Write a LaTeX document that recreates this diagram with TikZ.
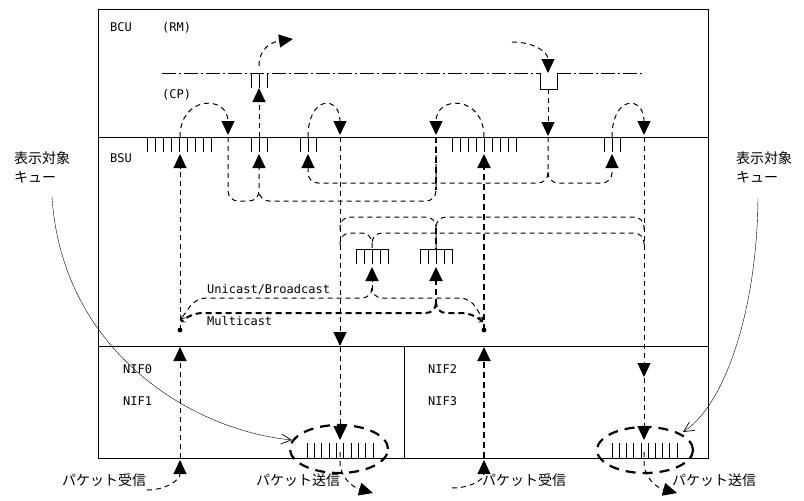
\documentclass[tikz,border=0pt]{standalone}
\usepackage{fontspec}
\setmonofont{DejaVu Sans Mono}
\newfontfamily\jp{Noto Sans CJK JP}
\usetikzlibrary{arrows.meta}

\begin{document}
\begin{tikzpicture}[x=1pt,y=-1pt,
  flow/.style={draw,line width=1pt,dash pattern=on 5pt off 4pt},
  fat flow/.style={draw,line width=2pt,dash pattern=on 6pt off 4pt},
  flowtip/.style={-{Triangle[width=13pt,length=14pt]}},
  smalltip/.style={-{Straight Barb[length=3pt,width=6pt,line width=0.8pt]}},
  calltip/.style={-{Straight Barb[length=10pt,width=10pt,line width=0.7pt]}},
  lbl/.style={font=\ttfamily\fontsize{12}{12}\selectfont,anchor=base west,inner sep=0pt},
  jlbl/.style={font=\jp\fontsize{14}{14}\selectfont,anchor=west,inner sep=0pt},
  rmbus/.style={line width=1pt,dash pattern=on 14pt off 3pt on 2pt off 3pt},
  ring/.style={line width=2.2pt,dash pattern=on 10pt off 7pt}]
  \useasboundingbox (0,0) rectangle (804,501);

  % frames
  \draw (98,9) rectangle (708,458);
  \draw (98,137) -- (708,137);
  \draw (98,346) -- (708,346);
  \draw (404,346) -- (404,458);

  % labels
  \node[lbl] (bcu) at (110,31) {BCU};
  \node[lbl] (rm) at (162,31) {(RM)};
  \node[lbl] (cp) at (162,98) {(CP)};
  \node[lbl] (bsu) at (110,162) {BSU};
  \node[lbl] (nif0) at (123,373) {NIF0};
  \node[lbl] (nif1) at (123,405) {NIF1};
  \node[lbl] (nif2) at (428,373) {NIF2};
  \node[lbl] (nif3) at (428,405) {NIF3};
  \node[lbl] (uni) at (207,293) {Unicast/Broadcast};
  \node[lbl] (multi) at (207,325) {Multicast};
  \node[jlbl] (lq1) at (14,158) {表示対象};
  \node[jlbl] (lq2) at (14,177) {キュー};
  \node[jlbl] (rq1) at (736,158) {表示対象};
  \node[jlbl] (rq2) at (736,177) {キュー};
  \node[jlbl] (rx0) at (62,480) {パケット受信};
  \node[jlbl] (tx0) at (256,480) {パケット送信};
  \node[jlbl] (rx2) at (482,480) {パケット受信};
  \node[jlbl] (tx2) at (672,480) {パケット送信};

  % RM line and its queues
  \draw[rmbus] (162,73) -- (540,73);
  \draw[rmbus] (557,73) -- (642,73);
  \draw (540,73) -- (540,89) -- (557,89) -- (557,73);
  \foreach \x in {251,259,267} \draw (\x,73) -- (\x,88);

  % BSU queues
  \foreach \x in {147,155,...,211} \draw (\x,137) -- (\x,152);
  \foreach \x in {452,460,...,516} \draw (\x,137) -- (\x,152);
  \foreach \x in {251,259,267} \draw (\x,137) -- (\x,152);
  \foreach \x in {300,308,316} \draw (\x,137) -- (\x,152);
  \foreach \x in {604,612,620} \draw (\x,137) -- (\x,152);

  % BCU flows
  \draw[flow,flowtip] (259,137) -- (259,88);
  \draw[flow,flowtip] (259,66) .. controls (259,48) and (272,42) .. (293,39);
  \draw[flow,flowtip] (512,42) .. controls (534,42) and (548,52) .. (548,73);
  \draw[flow,flowtip] (548,89) -- (548,136);

  % loops over the BSU line
  \draw[flow,flowtip] (180,137) .. controls (180,95) and (228,95) .. (228,135);
  \draw[flow,flowtip] (308,137) .. controls (308,95) and (340,95) .. (340,135);
  \draw[flow,flowtip] (484,137) .. controls (484,95) and (436,95) .. (436,135);
  \draw[flow,flowtip] (612,137) .. controls (612,95) and (644,95) .. (644,135);

  % merge into 259, split from 548
  \draw[flow,rounded corners=10pt,flowtip] (228,137) -- (228,201) -- (259,201) -- (259,154);
  \draw[flow,rounded corners=10pt] (436,137) -- (436,201) -- (259,201) -- (259,190);
  \draw[fat flow] (436,137) -- (436,190);
  \draw[flow,rounded corners=10pt,flowtip] (548,137) -- (548,183) -- (308,183) -- (308,154);
  \draw[flow,rounded corners=10pt,flowtip] (548,172) -- (548,183) -- (612,183) -- (612,154);

  % receive columns
  \coordinate (d0) at (180,330);
  \coordinate (d2) at (484,330);
  \draw[flow,flowtip] (d0) -- (180,154);
  \draw[fat flow,flowtip] (d2) -- (484,154);
  \fill (d0) circle (2.4pt);
  \fill (d2) circle (2.4pt);
  \draw[flow,flowtip] (180,458) -- (180,347);
  \draw[fat flow,flowtip] (484,458) -- (484,347);
  \draw[flow,flowtip] (147,490) .. controls (166,490) and (180,480) .. (180,460);
  \draw[flow,flowtip] (452,488) .. controls (470,488) and (484,480) .. (484,460);

  % send columns
  \draw[flow,flowtip] (340,137) -- (340,346);
  \draw[flow,flowtip] (340,347) -- (340,440);
  \draw[flow,flowtip] (340,452) -- (340,465) .. controls (342,478) and (352,487) .. (373,493);
  \draw[flow,flowtip] (644,137) -- (644,377);
  \draw[flow,flowtip] (644,378) -- (644,440);
  \draw[flow,flowtip] (644,452) -- (644,465) .. controls (646,478) and (655,487) .. (677,493);

  % forwarding queues and their outputs
  \draw (356,249) -- (388,249);
  \foreach \x in {356,364,...,388} \draw (\x,249) -- (\x,264);
  \draw (420,249) -- (452,249);
  \foreach \x in {420,428,...,452} \draw (\x,249) -- (\x,264);
  \draw[flow,rounded corners=10pt] (340,230) -- (340,217) -- (436,217) -- (436,249);
  \draw[flow,rounded corners=10pt] (644,230) -- (644,217) -- (436,217) -- (436,228);
  \draw[fat flow] (436,228) -- (436,249);
  \draw[flow,rounded corners=10pt] (340,245) -- (340,233) -- (372,233) -- (372,249);
  \draw[flow,rounded corners=10pt] (644,245) -- (644,233) -- (372,233) -- (372,244);

  % unicast / multicast
  \draw[flow,flowtip] (372,290) -- (372,267);
  \draw[fat flow,flowtip] (436,305) -- (436,267);
  \draw[flow,rounded corners=10pt,smalltip] (372,288) -- (372,298) -- (196,298) -- (181,319);
  \draw[flow,rounded corners=10pt,smalltip] (372,290) -- (372,298) -- (470,298) -- (483,319);
  \draw[fat flow,rounded corners=10pt,smalltip] (436,303) -- (436,313) -- (192,313) -- (181,322);
  \draw[fat flow,rounded corners=10pt,smalltip] (436,305) -- (436,313) -- (472,313) -- (483,322);

  % NIF send queues
  \foreach \i in {0,...,9} \draw ({307+7.33*\i},443) -- ++(0,15);
  \foreach \i in {0,...,9} \draw ({612+7.2*\i},443) -- ++(0,15);
  \draw[ring] (339,449) ellipse (49pt and 24pt);
  \draw[ring] (645,450) ellipse (48pt and 23pt);

  % callouts
  \draw[calltip] (52,197) .. controls (62,350) and (190,430) .. (292,440);
  \draw[calltip] (758,198) .. controls (757,310) and (725,405) .. (683,432);
\end{tikzpicture}
\end{document}
